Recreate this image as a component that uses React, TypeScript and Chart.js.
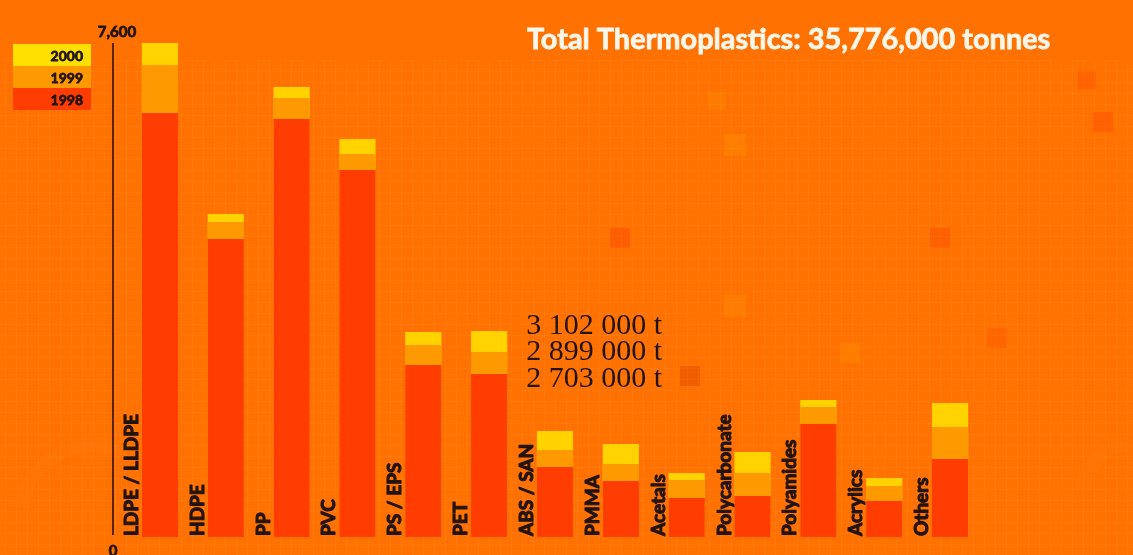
import React, { useEffect, useRef } from "react";
import { Chart, registerables } from "chart.js";
Chart.register(...registerables);

const categories = ["LDPE / LLDPE", "HDPE", "PP", "PVC", "PS / EPS", "PET", "ABS / SAN", "PMMA", "Acetals", "Polycarbonate", "Polyamides", "Acrylics", "Others"];
const values1998 = [6523, 4585, 6431, 5646, 2646, 2508, 1077, 862, 600, 631, 1738, 554, 1200];
const values1999 = [7262, 4846, 6754, 5892, 2954, 2846, 1338, 1123, 877, 985, 2000, 785, 1692];
const values2000 = [7600, 4969, 6923, 6123, 3154, 3169, 1631, 1431, 985, 1308, 2108, 908, 2062];
const years = ["1998", "1999", "2000"];
const yMin = 0;
const yMax = 7600;
const yTickLabels = ["0", "7,600"];
const titleText = "Total Thermoplastics: 35,776,000 tonnes";
const petNotes = ["3 102 000 t", "2 899 000 t", "2 703 000 t"];
const noteIndex = 5;

const BG = "#ff7100";
const C1998 = "#ff3d00";
const C1999 = "#ff9900";
const C2000 = "#ffd200";
const INK = "#22140c";

const decorPlugin = {
  id: "decor",
  beforeDraw(chart: any) {
    const { ctx, width, height } = chart;
    ctx.save();
    ctx.fillStyle = BG;
    ctx.fillRect(0, 0, width, height);
    // faint background grid
    ctx.strokeStyle = "rgba(255,200,120,0.08)";
    ctx.lineWidth = 1;
    for (let x = 5.5; x < width; x += 11) {
      ctx.beginPath(); ctx.moveTo(x, 60); ctx.lineTo(x, height); ctx.stroke();
    }
    for (let y = 60.5; y < height; y += 11) {
      ctx.beginPath(); ctx.moveTo(0, y); ctx.lineTo(width, y); ctx.stroke();
    }
    // faint decorative arcs
    ctx.strokeStyle = "rgba(255,150,40,0.10)";
    ctx.lineWidth = 14;
    ctx.beginPath(); ctx.arc(95, 520, 75, Math.PI * 1.05, Math.PI * 1.6); ctx.stroke();
    ctx.beginPath(); ctx.arc(1130, 490, 45, Math.PI * 1.0, Math.PI * 1.5); ctx.stroke();
    // faint decorative squares
    const sq: [number, number, number, string][] = [
      [610, 228, 20, "rgba(255,60,0,0.35)"],
      [724, 134, 22, "rgba(255,150,0,0.35)"],
      [724, 295, 22, "rgba(255,150,0,0.3)"],
      [680, 366, 20, "rgba(215,60,0,0.35)"],
      [930, 228, 20, "rgba(255,60,0,0.3)"],
      [1078, 71, 18, "rgba(255,60,0,0.25)"],
      [1093, 112, 20, "rgba(255,60,0,0.3)"],
      [987, 328, 20, "rgba(255,60,0,0.2)"],
      [840, 343, 20, "rgba(255,150,0,0.3)"],
      [708, 92, 18, "rgba(255,150,0,0.25)"],
    ];
    for (const [x, y, s, c] of sq) {
      ctx.fillStyle = c;
      ctx.fillRect(x, y, s, s);
    }
    ctx.restore();
  },
};

const fitFont = (ctx: any, text: string, target: number, weight: string, family: string) => {
  ctx.font = `${weight} 20px ${family}`;
  const w = ctx.measureText(text).width;
  return (20 * target) / w;
};

const heavyText = (ctx: any, text: string, x: number, y: number, color: string, stroke: number) => {
  ctx.fillStyle = color;
  ctx.strokeStyle = color;
  ctx.lineWidth = stroke;
  ctx.lineJoin = "round";
  ctx.strokeText(text, x, y);
  ctx.fillText(text, x, y);
};

const annotatePlugin = {
  id: "annotate",
  afterDatasetsDraw(chart: any) {
    const { ctx } = chart;
    const ys = chart.scales.y;
    ctx.save();

    // y axis line
    const axisX = chart.chartArea.left - 14;
    ctx.strokeStyle = "#5a2414";
    ctx.lineWidth = 2;
    ctx.beginPath();
    ctx.moveTo(axisX, ys.getPixelForValue(yMax));
    ctx.lineTo(axisX, ys.getPixelForValue(yMin) - 2);
    ctx.stroke();

    ctx.font = "bold 15px Lato";
    ctx.textAlign = "center";
    ctx.textBaseline = "bottom";
    heavyText(ctx, yTickLabels[1], axisX + 4, ys.getPixelForValue(yMax) - 3, INK, 0.8);
    ctx.textBaseline = "top";
    heavyText(ctx, yTickLabels[0], axisX, ys.getPixelForValue(yMin) + 7, INK, 0.8);

    // category labels (rotated, left of bars)
    const labelSize = fitFont(ctx, categories[0], 122, "bold", "Lato");
    ctx.font = `bold ${labelSize.toFixed(1)}px Lato`;
    ctx.textAlign = "left";
    ctx.textBaseline = "middle";
    const meta = chart.getDatasetMeta(0);
    categories.forEach((c, i) => {
      const bar = meta.data[i];
      const left = bar.x - bar.width / 2;
      ctx.save();
      ctx.translate(left - 10, ys.getPixelForValue(yMin) - 1);
      ctx.rotate(-Math.PI / 2);
      heavyText(ctx, c, 0, 0, INK, 1.1);
      ctx.restore();
    });

    // legend
    const legendRows = [
      { label: years[2], color: "#ffe000" },
      { label: years[1], color: C1999 },
      { label: years[0], color: C1998 },
    ];
    const lx = 13, lw = 78, rowH = 22;
    let ly = ys.getPixelForValue(yMax) + 1;
    ctx.font = "bold 14px Lato";
    ctx.textAlign = "right";
    ctx.textBaseline = "middle";
    legendRows.forEach((r) => {
      ctx.fillStyle = r.color;
      ctx.fillRect(lx, ly, lw, rowH);
      heavyText(ctx, r.label, lx + lw - 8, ly + rowH / 2 + 1, INK, 0.8);
      ly += rowH;
    });

    // title
    const tSize = fitFont(ctx, titleText, 524, "bold", "Lato");
    ctx.font = `bold ${tSize.toFixed(1)}px Lato`;
    ctx.textAlign = "left";
    ctx.textBaseline = "middle";
    heavyText(ctx, titleText, 527, 40, "#fff6ea", 0.8);

    // value notes beside PET
    const pBar = meta.data[noteIndex];
    const nx = pBar.x + pBar.width / 2 + 19;
    const ny = ys.getPixelForValue(values2000[noteIndex]) - 5;
    const nSize = fitFont(ctx, petNotes[0], 136, "normal", "'Liberation Serif'");
    ctx.font = `normal ${nSize.toFixed(1)}px 'Liberation Serif'`;
    ctx.fillStyle = INK;
    petNotes.forEach((t, k) => {
      ctx.fillText(t, nx, ny + k * 26.5);
    });

    ctx.restore();
  },
};

export default function App() {
  const ref = useRef<HTMLCanvasElement | null>(null);
  useEffect(() => {
    if (!ref.current) return;
    const chart = new Chart(ref.current, {
      type: "bar",
      data: {
        labels: categories,
        datasets: [
          { label: years[0], data: values1998, backgroundColor: C1998 },
          { label: years[1], data: values1999, backgroundColor: C1999 },
          { label: years[2], data: values2000, backgroundColor: C2000 },
        ],
      },
      options: {
        responsive: false,
        animation: false,
        events: [],
        layout: { padding: { left: 127, right: 150, top: 43, bottom: 18 } },
        datasets: { bar: { grouped: false, barPercentage: 0.55, categoryPercentage: 1, borderWidth: 0 } },
        plugins: { legend: { display: false }, tooltip: { enabled: false }, title: { display: false } },
        scales: {
          x: { display: false },
          y: { display: false, min: yMin, max: yMax },
        },
      },
      plugins: [decorPlugin, annotatePlugin],
    });
    return () => chart.destroy();
  }, []);
  return (
    <div style={{ position: "fixed", left: 0, top: 0, width: 1133, height: 555, background: BG }}>
      <canvas ref={ref} width={1133} height={555} style={{ display: "block" }} />
    </div>
  );
}
